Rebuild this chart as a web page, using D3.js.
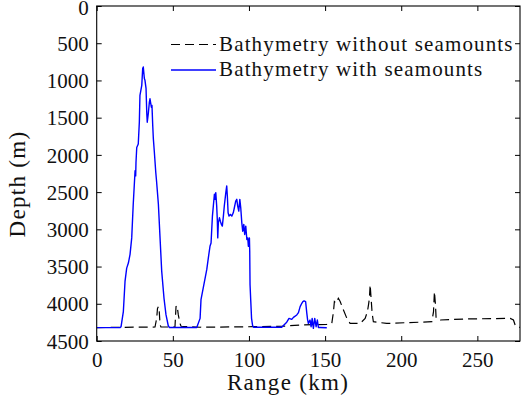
<!DOCTYPE html>
<html>
<head>
<meta charset="utf-8">
<script src="https://cdn.jsdelivr.net/npm/d3@7"></script>
<style>
  html, body { margin: 0; padding: 0; background: #fff; }
  svg { display: block; }
  svg text { font-family: "Liberation Serif", "Times New Roman", "DejaVu Serif", serif !important; fill: #111; }
</style>
</head>
<body>
<svg id="chart" width="522" height="399"></svg>
<script>
// Bathymetry profile without seamounts (range in km, depth in m)
const flatRange = [0, 38.3, 39.4, 39.9, 40.5, 41.1, 41.6, 42.2, 51.4, 52.1, 52.8, 53.6, 54.7, 55.4,
  67.9, 102.7, 121.7, 133.6, 151.1, 154.4, 155.5, 156.1, 157.2, 158.7, 159.9, 161.6, 164.3, 166.4,
  173.0, 176.3, 177.8, 178.5, 179.1, 179.6, 180.2, 180.9, 181.7, 190.5, 220.1, 221.2, 221.8, 222.5,
  222.9, 225.6, 243.1, 271.6, 273.7, 274.8, 277.0, 278.0];
const flatDepth = [4320, 4312, 4196, 4065, 4038, 4106, 4281, 4312, 4312, 4038, 4024, 4150, 4264, 4302,
  4315, 4308, 4302, 4285, 4277, 4264, 4106, 3970, 3993, 3926, 3970, 4061, 4196, 4264,
  4264, 4196, 4106, 4015, 3926, 3745, 3926, 4129, 4241, 4264, 4241, 4106, 3836, 4015,
  4196, 4218, 4204, 4196, 4218, 4285, 4318, 4318];

// Bathymetry profile with seamounts (range in km, depth in m)
const mountRange = [0, 15.3, 16.0, 17.5, 18.6, 19.7, 20.8, 21.9, 23.0, 24.0, 25.2, 25.6, 25.8, 26.3,
  27.3, 28.0, 28.4, 29.6, 30.2, 30.6, 31.3, 31.7, 32.4, 32.9, 33.2, 33.9, 34.6, 35.0, 35.9, 36.3,
  36.8, 37.2, 37.8, 38.8, 39.3, 40.5, 41.6, 42.7, 44.2, 45.5, 47.0, 47.7, 65.7,
  67.9, 68.5, 71.2, 72.3, 73.3, 74.4, 75.1, 76.0, 76.6, 77.3, 77.7, 78.2, 78.8, 79.2, 79.5, 79.9,
  80.6, 81.2, 81.9, 82.5, 83.2, 83.8, 84.8, 85.4, 85.8, 86.3, 86.9, 87.8, 88.7, 89.7, 90.4, 91.3,
  92.0, 92.6, 93.3, 94.0, 94.6, 95.3, 95.9, 96.6, 97.2, 97.9, 98.6, 99.2, 99.6, 100.3, 100.5,
  100.7, 101.2, 101.7, 102.4, 103.0, 121.5, 124.8, 126.3, 128.1, 129.2, 131.4, 132.5, 133.6,
  134.7, 135.4, 136.2, 137.2, 138.0, 138.5, 139.0, 140.1, 140.8, 141.5, 142.3, 143.2, 144.1,
  144.9, 145.6, 146.7, 151.1];
const mountDepth = [4320, 4320, 4308, 4106, 3700, 3521, 3453, 3336, 3115, 2660, 2214, 2282, 2102, 1900,
  1854, 1562, 1201, 1066, 840, 819, 975, 998, 1106, 1444, 1562, 1444, 1291, 1246, 1359, 1336,
  1606, 1782, 1944, 2237, 2350, 2660, 3115, 3565, 3926, 4146, 4295, 4318, 4318,
  4196, 3944, 3656, 3538, 3386, 3228, 3183, 2822, 2687, 2529, 2597, 2507, 2687, 2867, 3115, 2913,
  2845, 2890, 2934, 2957, 2822, 2687, 2507, 2417, 2552, 2778, 2822, 2799, 2822, 2778, 2710, 2620,
  2597, 2687, 2755, 2597, 2710, 2913, 3025, 2934, 3069, 2957, 3137, 3115, 3228, 3115, 3295,
  3741, 3970, 4196, 4295, 4315, 4315, 4247, 4196, 4210, 4183, 4150, 4119, 4038,
  3993, 3970, 3961, 3970, 4129, 4213, 4264, 4218, 4308, 4196, 4331, 4196, 4308,
  4218, 4318, 4318, 4322];

const xTicks = [0, 50, 100, 150, 200, 250];
const yTicks = [0, 500, 1000, 1500, 2000, 2500, 3000, 3500, 4000, 4500];
const seriesNames = ["Bathymetry without seamounts", "Bathymetry with seamounts"];
const xLabel = "Range (km)";
const yLabel = "Depth (m)";

const svg = d3.select("#chart");
const boxL = 96.7, boxR = 520, boxT = 6, boxB = 341;

const x = d3.scaleLinear().domain([0, 278]).range([boxL, boxR]);
const y = d3.scaleLinear().domain([0, 4500]).range([boxT, boxB]);

const toPts = (r, d) => r.map((v, i) => [v, d[i]]);
const line = d3.line().x(p => x(p[0])).y(p => y(p[1]));

// data lines (clipped to the axes box)
svg.append("clipPath").attr("id", "plotclip")
  .append("rect").attr("x", boxL).attr("y", boxT).attr("width", boxR - boxL).attr("height", boxB - boxT);

const plot = svg.append("g").attr("clip-path", "url(#plotclip)");
plot.append("path")
  .attr("d", line(toPts(flatRange, flatDepth)))
  .attr("fill", "none").attr("stroke", "#000").attr("stroke-width", 1.2)
  .attr("stroke-dasharray", "9,5");
plot.append("path")
  .attr("d", line(toPts(mountRange, mountDepth)))
  .attr("fill", "none").attr("stroke", "#0000ff").attr("stroke-width", 1.4)
  .attr("stroke-linejoin", "round");

// axes with inward ticks on all four sides
const tickLen = 5;
const fontTick = "21px";
const styleAxis = g => {
  g.attr("font-family", null);
  g.select(".domain").remove();
  g.selectAll(".tick line").attr("stroke", "#000").attr("stroke-width", 1);
};

svg.append("g").attr("transform", `translate(0,${boxB})`)
  .call(d3.axisBottom(x).tickValues(xTicks).tickSizeInner(-tickLen).tickSizeOuter(0).tickPadding(tickLen + 6).tickFormat(d3.format("d")))
  .call(styleAxis)
  .call(g => g.selectAll("text").attr("font-size", fontTick).attr("fill", "#111").attr("dy", "0.72em"));

svg.append("g").attr("transform", `translate(0,${boxT})`)
  .call(d3.axisTop(x).tickValues(xTicks).tickSizeInner(-tickLen).tickSizeOuter(0).tickFormat(""))
  .call(styleAxis);

svg.append("g").attr("transform", `translate(${boxL},0)`)
  .call(d3.axisLeft(y).tickValues(yTicks).tickSizeInner(-tickLen).tickSizeOuter(0).tickPadding(tickLen + 3).tickFormat(d3.format("d")))
  .call(styleAxis)
  .call(g => g.selectAll("text").attr("font-size", fontTick).attr("fill", "#111")
    .attr("dy", d => d === 0 ? "0.42em" : "0.34em"));

svg.append("g").attr("transform", `translate(${boxR},0)`)
  .call(d3.axisRight(y).tickValues(yTicks).tickSizeInner(-tickLen).tickSizeOuter(0).tickFormat(""))
  .call(styleAxis);

// box
svg.append("rect").attr("x", boxL).attr("y", boxT).attr("width", boxR - boxL).attr("height", boxB - boxT)
  .attr("fill", "none").attr("stroke", "#000").attr("stroke-width", 1.1);

// axis titles
svg.append("text").attr("x", 288).attr("y", 390).attr("text-anchor", "middle")
  .attr("font-size", "23px").attr("letter-spacing", "1.3px").text(xLabel);
svg.append("text").attr("transform", "translate(25,184) rotate(-90)").attr("text-anchor", "middle")
  .attr("font-size", "23px").attr("letter-spacing", "1.3px").text(yLabel);

// legend
const legend = svg.append("g");
const legendRows = [
  { name: seriesNames[0], color: "#000", dash: "9,5", w: 1.2, yMid: 44.5, base: 51 },
  { name: seriesNames[1], color: "#0000ff", dash: null, w: 1.4, yMid: 70, base: 76 }
];
legendRows.forEach(r => {
  legend.append("line").attr("x1", 171).attr("x2", 216).attr("y1", r.yMid).attr("y2", r.yMid)
    .attr("stroke", r.color).attr("stroke-width", r.w).attr("stroke-dasharray", r.dash);
  legend.append("text").attr("x", 219).attr("y", r.base)
    .attr("font-size", "21px").attr("letter-spacing", "1.15px").text(r.name);
});
</script>
</body>
</html>
